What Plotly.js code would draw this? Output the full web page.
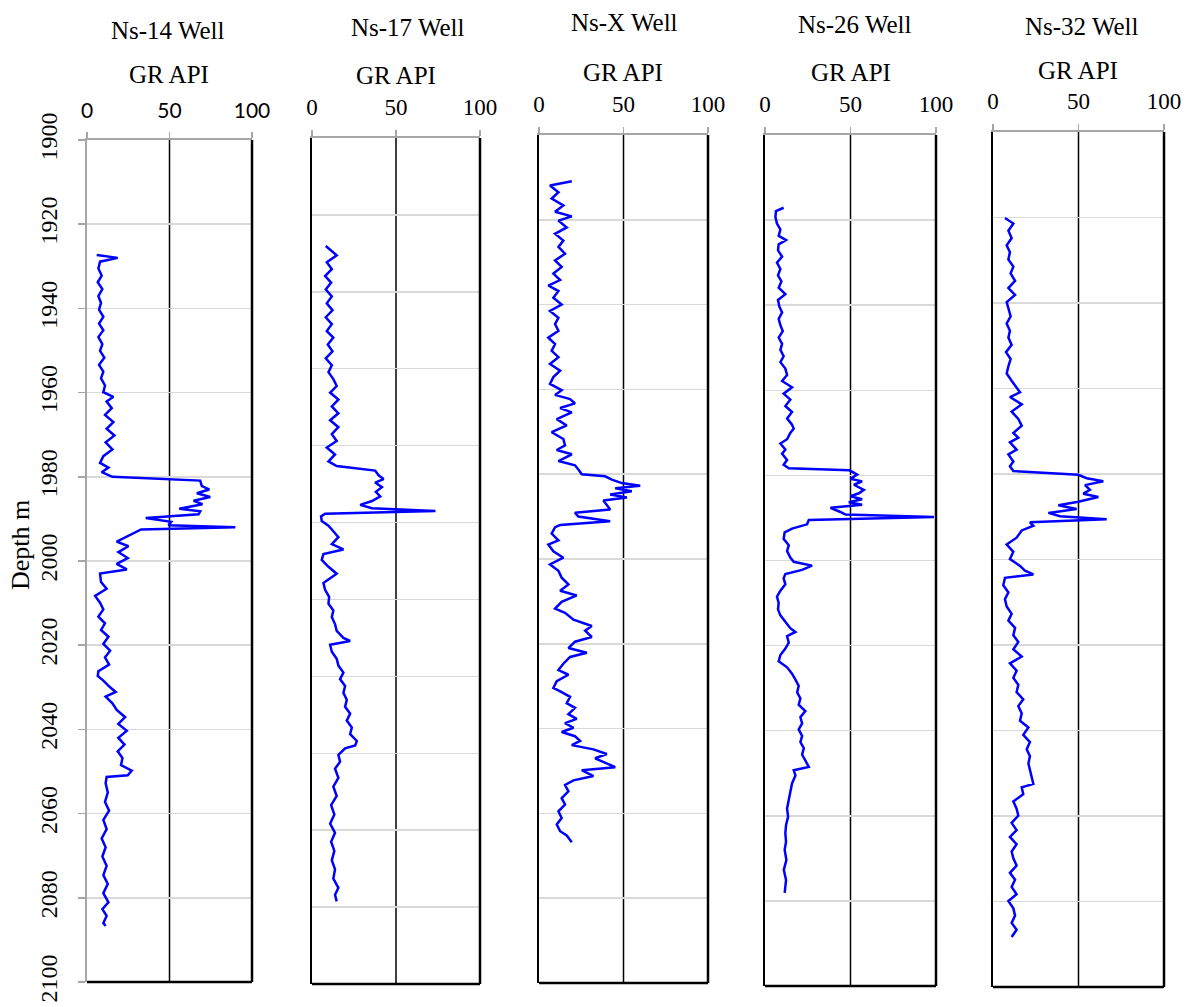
<!DOCTYPE html>
<html>
<head>
<meta charset="utf-8">
<script src="https://cdn.plot.ly/plotly-3.0.1.min.js"></script>
<style>html,body{margin:0;padding:0;background:#fff;}#chart{width:1187px;height:1007px;}</style>
</head>
<body>
<div id="chart"></div>
<script>
// ---------- DATA ----------
const wellNames = ['Ns-14 Well', 'Ns-17 Well', 'Ns-X Well', 'Ns-26 Well', 'Ns-32 Well'];
const xTickVals = [0, 50, 100];
const xTickText = ['0', '50', '100'];

const depthNs14 = [1927.3,1928.0,1928.9,1930.5,1932.2,1933.8,1935.4,1937.1,1938.7,1940.3,1942.0,1943.6,1945.2,1946.8,1948.5,1950.1,1951.7,1953.4,1955.0,1956.6,1958.3,1959.9,1961.0,1962.1,1963.7,1965.3,1967.0,1968.6,1970.2,1971.8,1973.5,1975.1,1976.7,1977.8,1978.9,1980.0,1980.9,1982.2,1983.0,1983.9,1984.8,1985.7,1986.5,1987.6,1988.2,1988.9,1989.8,1990.7,1991.5,1992.0,1992.5,1993.0,1994.1,1995.4,1996.5,1997.9,1999.3,2000.7,2002.0,2003.0,2005.0,2006.6,2008.3,2009.9,2011.5,2013.2,2014.8,2016.4,2018.0,2019.7,2021.3,2022.9,2024.6,2026.2,2027.3,2028.4,2030.0,2031.1,2032.2,2033.8,2035.4,2037.1,2038.7,2040.3,2042.0,2043.6,2045.2,2046.8,2048.5,2049.8,2050.9,2051.3,2052.8,2055.0,2057.2,2059.3,2061.5,2063.7,2065.9,2068.0,2070.2,2072.4,2074.6,2076.7,2078.9,2081.1,2082.7,2084.3,2086.0,2086.7];
const grNs14 = [5.9,18.6,7.9,6.9,8.9,6.5,9.3,6.9,8.5,7.3,9.9,7.3,9.9,6.9,9.3,7.9,10.5,7.3,9.9,8.5,10.9,9.9,16.0,11.9,15.0,10.9,16.0,11.9,16.6,11.3,15.4,9.9,7.9,13.0,8.9,15.4,68.6,69.6,74.1,66.6,74.7,64.6,70.0,55.9,68.6,67.6,35.6,51.0,49.4,89.9,32.8,30.2,25.1,18.0,25.1,19.0,24.7,18.0,24.1,7.9,8.5,11.9,4.9,7.9,9.9,6.9,10.9,8.5,13.0,9.9,14.0,10.9,13.4,6.9,6.5,9.9,14.0,17.4,11.3,15.4,18.0,23.1,19.0,24.1,19.0,22.7,18.6,21.5,20.6,27.1,24.7,11.9,11.3,12.6,10.9,13.4,9.9,11.9,8.9,11.3,9.3,11.9,9.9,12.6,9.9,13.0,9.3,11.9,9.9,11.3];

const depthNs17 = [1928.1,1930.5,1932.3,1934.1,1935.9,1937.6,1939.4,1941.2,1943.0,1944.8,1946.6,1948.4,1950.2,1951.9,1953.7,1955.5,1957.3,1959.1,1960.9,1962.7,1964.5,1966.2,1968.0,1969.8,1971.6,1973.4,1975.2,1977.0,1978.8,1980.5,1982.3,1984.1,1985.3,1986.5,1987.7,1988.7,1989.6,1990.8,1992.0,1993.2,1994.4,1995.4,1996.3,1997.0,1997.7,1998.4,1999.6,2000.8,2002.0,2003.8,2005.6,2007.0,2008.2,2009.7,2011.5,2013.3,2014.5,2015.7,2017.5,2019.3,2021.1,2022.9,2024.6,2026.4,2028.2,2030.0,2030.8,2031.8,2033.6,2035.4,2037.2,2039.0,2040.7,2042.5,2044.3,2046.1,2047.9,2049.7,2051.5,2053.3,2055.0,2056.8,2058.0,2058.7,2060.4,2062.2,2064.0,2066.4,2068.7,2071.1,2073.5,2075.9,2078.3,2080.7,2083.0,2085.4,2087.8,2090.2,2092.6,2095.0,2096.8,2098.5];
const grNs17 = [8.2,14.7,8.8,11.8,7.8,11.4,8.2,11.8,8.8,12.2,8.2,11.8,8.8,12.7,9.4,12.2,8.2,11.8,9.8,12.7,14.7,10.8,15.7,11.8,15.7,10.8,15.7,11.8,14.7,8.8,13.7,9.8,14.7,37.6,39.6,42.6,37.6,41.6,38.0,40.6,35.7,28.7,35.7,73.5,7.8,5.4,5.8,9.8,12.2,15.7,11.8,18.7,6.8,5.8,9.8,14.7,10.8,6.8,7.8,10.2,9.8,12.7,11.8,13.7,14.7,18.7,22.7,10.8,11.8,14.7,15.7,18.7,16.7,19.7,18.7,20.7,19.7,22.7,20.7,23.7,22.7,26.7,25.7,19.7,15.7,16.7,13.7,15.7,12.7,14.7,11.4,13.3,10.8,13.7,11.4,13.3,11.8,13.7,12.7,15.7,13.7,14.7];

const depthNsX = [1910.9,1911.9,1913.5,1915.0,1916.6,1918.1,1919.2,1920.2,1921.8,1923.3,1924.9,1926.4,1928.0,1929.6,1931.1,1932.7,1934.2,1935.5,1936.8,1938.4,1940.0,1941.5,1943.1,1944.6,1946.2,1947.8,1949.3,1950.9,1952.4,1954.0,1955.6,1957.1,1958.7,1960.2,1961.3,1962.3,1963.3,1964.4,1965.4,1967.0,1968.5,1970.1,1971.7,1973.2,1974.3,1975.3,1976.9,1977.9,1978.9,1980.0,1980.5,1981.3,1982.1,1982.7,1983.3,1984.0,1984.8,1985.5,1986.2,1987.3,1988.3,1989.1,1990.0,1991.1,1992.0,1992.5,1994.0,1995.6,1996.6,1998.2,1999.7,2001.3,2002.8,2004.4,2006.0,2007.5,2008.6,2010.1,2011.7,2012.7,2014.3,2015.8,2016.9,2018.4,2019.5,2021.0,2022.1,2023.1,2024.7,2026.2,2027.3,2028.8,2030.4,2031.4,2032.5,2034.0,2035.1,2036.6,2037.7,2038.7,2039.8,2040.8,2041.8,2042.9,2043.9,2044.9,2046.0,2047.0,2048.0,2049.1,2049.8,2051.2,2052.2,2053.3,2054.8,2056.4,2057.9,2059.5,2061.1,2062.6,2064.2,2065.2,2066.8];
const grNsX = [19.4,6.5,11.5,7.5,14.4,9.5,19.4,11.5,16.4,9.5,14.4,11.5,15.4,9.5,13.4,8.5,12.5,5.5,11.5,8.5,13.4,6.5,11.5,9.5,11.5,5.5,9.5,7.5,11.5,6.5,12.5,8.5,6.5,13.4,9.5,18.4,21.3,12.5,19.4,10.5,16.4,7.5,14.4,15.4,10.5,19.4,11.5,21.3,23.3,25.3,39.1,43.1,49.0,59.9,45.1,54.9,42.1,52.0,38.1,40.1,42.1,21.3,23.3,42.1,12.5,9.5,7.5,11.5,5.5,8.5,14.4,6.5,11.5,13.4,17.4,12.5,22.3,13.4,9.5,15.4,20.4,31.2,27.3,31.2,21.3,17.4,28.3,18.4,14.4,11.5,17.4,10.5,8.5,13.4,18.4,16.4,21.3,17.4,22.3,15.4,20.4,13.4,21.3,24.3,19.4,32.2,40.1,33.2,39.1,45.1,25.3,32.2,20.4,15.4,17.4,13.4,15.4,11.5,13.4,10.5,12.5,16.4,19.4];

const depthNs26 = [1917.1,1917.9,1919.3,1920.8,1922.2,1923.7,1924.7,1925.7,1927.1,1928.6,1930.0,1931.5,1933.0,1934.4,1935.9,1937.4,1938.8,1940.3,1941.7,1943.2,1944.7,1946.1,1947.6,1949.1,1950.5,1952.0,1953.4,1954.9,1956.4,1957.8,1959.3,1960.8,1962.2,1963.7,1965.1,1966.6,1968.1,1969.0,1970.0,1971.5,1972.5,1973.9,1974.9,1976.4,1977.5,1978.3,1978.8,1979.8,1980.8,1981.4,1982.2,1983.4,1984.2,1984.9,1985.6,1986.3,1986.9,1987.6,1988.6,1989.2,1989.8,1990.5,1991.5,1992.5,1993.4,1994.9,1996.4,1997.8,1999.3,2000.3,2001.2,2002.2,2003.2,2004.2,2005.6,2007.1,2008.5,2010.0,2011.5,2012.9,2014.4,2015.9,2016.8,2017.8,2019.3,2020.7,2022.2,2023.7,2025.1,2026.6,2028.0,2029.5,2031.0,2032.4,2033.9,2035.4,2036.8,2038.3,2039.7,2041.2,2042.7,2044.1,2045.6,2047.1,2048.5,2049.3,2050.5,2052.4,2054.4,2056.3,2058.3,2060.2,2062.2,2064.1,2066.1,2068.0,2070.4,2072.7,2075.1,2078.1];
const grNs26 = [10.9,6.4,6.1,7.0,9.0,8.0,12.3,8.0,7.6,10.0,7.0,9.0,7.6,9.6,8.0,11.9,7.6,8.4,10.0,8.0,9.0,10.4,8.0,10.0,9.0,10.9,9.0,11.9,12.9,10.0,15.8,10.9,14.8,11.9,15.8,12.9,15.8,16.8,14.8,12.9,9.0,11.9,10.0,12.9,10.9,13.9,49.4,53.9,50.0,56.8,52.0,57.8,54.9,50.0,56.8,49.0,56.8,38.3,44.1,47.1,98.8,25.6,24.6,15.8,11.5,10.9,13.9,12.9,14.8,16.8,27.5,21.7,11.9,10.9,11.9,9.0,7.0,8.0,7.6,9.0,11.9,14.8,17.8,12.9,13.9,11.9,9.0,8.0,12.9,15.8,17.8,19.7,18.8,20.7,19.7,23.6,20.7,21.7,19.7,21.7,20.7,22.7,21.7,23.6,25.6,16.8,17.8,15.8,14.8,13.9,12.9,13.5,12.3,11.9,12.3,11.5,12.5,11.0,12.3,11.5];

const depthNs32 = [1920.1,1921.4,1923.1,1924.8,1926.5,1928.1,1929.8,1931.5,1933.1,1934.8,1936.5,1938.1,1939.8,1941.5,1943.1,1944.8,1946.5,1948.1,1949.8,1951.5,1953.1,1954.8,1956.5,1958.2,1959.8,1960.9,1962.0,1963.7,1965.4,1967.1,1968.7,1970.4,1971.5,1972.6,1974.3,1975.4,1977.1,1978.2,1979.3,1980.2,1981.0,1981.7,1982.6,1983.7,1984.6,1985.4,1986.5,1987.3,1988.2,1989.1,1989.9,1990.6,1991.3,1992.1,1993.2,1994.9,1996.5,1998.2,1999.9,2001.5,2002.6,2003.5,2004.3,2006.0,2007.7,2009.3,2011.0,2012.7,2014.3,2016.0,2017.7,2019.3,2021.0,2022.7,2024.3,2026.0,2027.7,2029.3,2031.0,2032.7,2034.3,2036.0,2037.7,2039.3,2041.0,2042.7,2044.4,2046.0,2047.7,2049.4,2051.0,2052.5,2053.3,2054.9,2056.6,2058.3,2059.9,2061.6,2063.3,2064.9,2066.6,2068.3,2069.9,2071.6,2073.3,2074.9,2076.6,2078.3,2079.9,2081.6,2083.3,2085.0,2086.6,2088.3];
const grNs32 = [7.0,11.9,9.0,10.9,8.0,9.9,9.0,11.9,10.3,12.9,9.0,12.9,8.0,9.0,10.3,8.0,9.9,9.0,10.9,7.6,10.3,9.0,8.0,10.9,13.8,15.8,9.9,16.8,10.9,14.8,16.8,11.9,14.8,9.9,13.8,9.0,11.9,9.9,11.9,49.9,54.8,64.5,53.8,56.7,52.8,61.6,49.9,38.2,48.9,32.4,39.2,66.5,21.6,23.6,16.8,13.8,8.0,11.9,9.9,15.8,18.7,23.6,7.0,6.0,9.0,7.0,8.0,10.9,9.0,12.9,11.9,14.8,11.9,16.8,9.9,13.8,11.9,14.8,13.8,17.7,14.8,16.8,15.8,20.7,17.7,21.6,19.7,21.6,20.7,21.6,22.6,23.6,16.8,17.7,11.9,13.8,14.8,10.9,13.8,9.9,13.8,10.9,11.9,13.8,9.9,12.9,10.9,13.8,9.0,11.9,12.9,10.9,13.8,10.9];

const depthRanges = [[2100, 1900], [2120, 1900], [2100, 1900], [2100, 1900], [2100, 1900]];
const depthSeries = [depthNs14, depthNs17, depthNsX, depthNs26, depthNs32];
const grSeries = [grNs14, grNs17, grNsX, grNs26, grNs32];

// ---------- LAYOUT GEOMETRY (pixels) ----------
const W = 1187, H = 1007;
const boxes = [
  {l: 87,  r: 252,  t: 140, b: 982},
  {l: 312, r: 480,  t: 138, b: 984},
  {l: 539, r: 708,  t: 135, b: 983},
  {l: 765, r: 936,  t: 135, b: 986},
  {l: 993, r: 1164, t: 132, b: 987}
];
const titlePos = [
  {x: 168, y: 30,  gx: 169, gy: 75},
  {x: 408, y: 28,  gx: 396, gy: 76},
  {x: 624, y: 22,  gx: 623, gy: 72},
  {x: 855, y: 25,  gx: 851, gy: 73},
  {x: 1082, y: 27, gx: 1078, gy: 70}
];
const px = v => v / W;
const py = v => 1 - v / H;

const serif = 'Liberation Serif';
const grey = '#a6a6a6';

const traces = [];
const layout = {
  width: W, height: H,
  margin: {l: 0, r: 0, t: 0, b: 0},
  font: {family: serif, color: '#000', size: 22},
  paper_bgcolor: '#ffffff',
  plot_bgcolor: 'rgba(0,0,0,0)',
  showlegend: false,
  shapes: [],
  annotations: []
};

for (let i = 0; i < 5; i++) {
  const n = i === 0 ? '' : String(i + 1);
  const b = boxes[i];
  traces.push({
    type: 'scatter', mode: 'lines',
    x: grSeries[i], y: depthSeries[i],
    xaxis: 'x' + n, yaxis: 'y' + n,
    line: {color: '#0000ff', width: 2.5},
    hoverinfo: 'skip'
  });
  layout['xaxis' + n] = {
    domain: [px(b.l), px(b.r)],
    anchor: 'y' + n,
    side: 'top',
    range: [0, 100],
    tickvals: xTickVals, ticktext: xTickText,
    showgrid: false, zeroline: false,
    showline: true, linecolor: grey, linewidth: 2,
    ticks: 'outside', ticklen: 6, tickcolor: grey, tickwidth: 1.5,
    ticklabelstandoff: 6,
    tickfont: i === 0 ? {family: 'Lato', size: 21, color: '#000'}
                      : {family: serif, size: 23, color: '#000'},
    fixedrange: true, automargin: false
  };
  layout['yaxis' + n] = {
    domain: [py(b.b), py(b.t)],
    anchor: 'x' + n,
    range: depthRanges[i],
    tick0: 1900, dtick: 20,
    showgrid: true, gridcolor: '#d9d9d9', gridwidth: 1.5,
    zeroline: false,
    showline: true,
    linecolor: i === 0 ? grey : '#000000',
    linewidth: i === 0 ? 2 : 2.5,
    ticks: i === 0 ? 'outside' : '',
    ticklen: 7, tickcolor: grey, tickwidth: 1.5,
    showticklabels: i === 0,
    tickangle: -90,
    ticklabelstandoff: 11,
    tickfont: {family: serif, size: 24, color: '#000'},
    fixedrange: true, automargin: false
  };
  // vertical line at the centre of the scale
  layout.shapes.push({
    type: 'line', xref: 'x' + n + ' domain', yref: 'y' + n + ' domain',
    x0: 0.5, x1: 0.5, y0: 0, y1: 1, layer: 'below',
    line: {color: '#000', width: 1.5}
  });
  // right border
  layout.shapes.push({
    type: 'line', xref: 'x' + n + ' domain', yref: 'y' + n + ' domain',
    x0: 1, x1: 1, y0: 0, y1: 1, layer: 'above',
    line: {color: '#000', width: 2.5}
  });
  // bottom border
  layout.shapes.push({
    type: 'line', xref: 'x' + n + ' domain', yref: 'y' + n + ' domain',
    x0: 0, x1: 1, y0: 0, y1: 0, layer: 'above',
    line: {color: '#000', width: 2.5}
  });
  layout.annotations.push({
    text: wellNames[i], xref: 'paper', yref: 'paper',
    x: px(titlePos[i].x), y: py(titlePos[i].y),
    xanchor: 'center', yanchor: 'middle', showarrow: false,
    font: {family: serif, size: 25, color: '#000'}
  });
  layout.annotations.push({
    text: 'GR API', xref: 'paper', yref: 'paper',
    x: px(titlePos[i].gx), y: py(titlePos[i].gy),
    xanchor: 'center', yanchor: 'middle', showarrow: false,
    font: {family: serif, size: 25, color: '#000'}
  });
}
layout.annotations.push({
  text: 'Depth m', xref: 'paper', yref: 'paper',
  x: px(20), y: py(545), xanchor: 'center', yanchor: 'middle',
  textangle: -90, showarrow: false,
  font: {family: serif, size: 26, color: '#000'}
});

Plotly.newPlot('chart', traces, layout, {displayModeBar: false, staticPlot: true});
</script>
</body>
</html>
